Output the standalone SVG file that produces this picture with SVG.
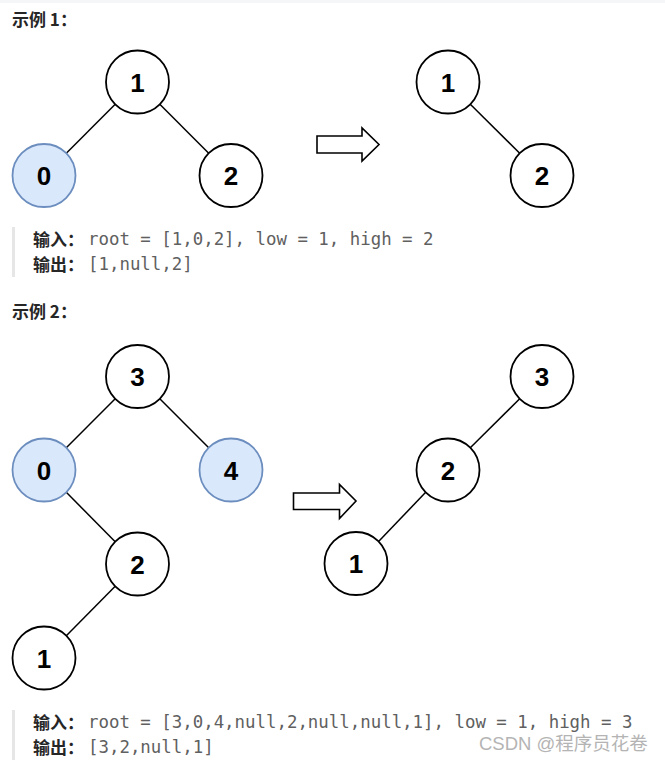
<svg xmlns="http://www.w3.org/2000/svg" width="665" height="762" viewBox="0 0 665 762">
<style>
.n{fill:#ffffff;stroke:#000000;stroke-width:1.8}
.h{fill:#dae8fc;stroke:#6c8ebf;stroke-width:1.8}
.t{font-family:"Liberation Sans",Arial,sans-serif;font-weight:bold;font-size:26px;fill:#000000;text-anchor:middle}
.e{stroke:#000000;stroke-width:1.5;fill:none}
.ar{fill:#ffffff;stroke:#000000;stroke-width:1.6;stroke-linejoin:miter}
.hd{font-family:"Noto Sans CJK SC","Noto Sans",sans-serif;font-weight:bold;font-size:17px;fill:#262626}
.lb{font-family:"Noto Sans CJK SC","Noto Sans",sans-serif;font-weight:bold;font-size:17px;fill:#262626}
.mo{font-family:"DejaVu Sans Mono","Liberation Mono",monospace;font-size:17.4px;fill:#606060}
.bar{fill:#e6e6e6}
.wm{font-family:"Liberation Sans","Noto Sans CJK SC",sans-serif;font-size:18.5px;fill:#b4b4b4}
</style>
<rect x="0" y="0" width="665" height="762" fill="#ffffff"/>
<rect x="0" y="0" width="665" height="3" fill="#f5f6f7"/>

<text class="hd" x="12" y="26">示例 1：</text>
<text class="hd" x="12" y="318">示例 2：</text>

<g id="connectors">
  <line class="e" x1="115.2" y1="104.3" x2="66.3" y2="153.2"/>
  <line class="e" x1="159.8" y1="104.3" x2="208.7" y2="153.2"/>
  <line class="e" x1="470.3" y1="104.3" x2="519.7" y2="153.2"/>
  <line class="e" x1="115.2" y1="398.8" x2="66.3" y2="447.7"/>
  <line class="e" x1="159.8" y1="398.8" x2="208.7" y2="447.7"/>
  <line class="e" x1="66.3" y1="492.3" x2="115.2" y2="541.7"/>
  <line class="e" x1="115.2" y1="586.3" x2="66.3" y2="635.7"/>
  <line class="e" x1="519.7" y1="398.8" x2="470.3" y2="447.7"/>
  <line class="e" x1="425.7" y1="492.3" x2="378.8" y2="541.2"/>
  <polygon class="ar" points="317,136 362,136 362,128 379,144.5 362,161 362,153 317,153"/>
  <polygon class="ar" points="293.5,493 339.5,493 339.5,484.5 356,501 339.5,518.5 339.5,509.5 293.5,509.5"/>
</g>

<g id="ex1-n1"><circle class="n" cx="137.5" cy="82" r="31.5"/><text class="t" x="137.5" y="91.5">1</text></g>
<g id="ex1-n0"><circle class="h" cx="44" cy="175.5" r="31.5"/><text class="t" x="44" y="185">0</text></g>
<g id="ex1-n2"><circle class="n" cx="231" cy="175.5" r="31.5"/><text class="t" x="231" y="185">2</text></g>
<g id="ex1-r1"><circle class="n" cx="448" cy="82" r="31.5"/><text class="t" x="448" y="91.5">1</text></g>
<g id="ex1-r2"><circle class="n" cx="542" cy="175.5" r="31.5"/><text class="t" x="542" y="185">2</text></g>

<g id="ex1-io">
  <rect class="bar" x="12" y="227" width="3" height="50"/>
  <text class="lb" x="33" y="246">输入：</text>
  <text class="mo" x="88" y="245">root = [1,0,2], low = 1, high = 2</text>
  <text class="lb" x="33" y="271">输出：</text>
  <text class="mo" x="88" y="270">[1,null,2]</text>
</g>

<g id="ex2-n3"><circle class="n" cx="137.5" cy="376.5" r="31.5"/><text class="t" x="137.5" y="386">3</text></g>
<g id="ex2-n0"><circle class="h" cx="44" cy="470" r="31.5"/><text class="t" x="44" y="479.5">0</text></g>
<g id="ex2-n4"><circle class="h" cx="231" cy="470" r="31.5"/><text class="t" x="231" y="479.5">4</text></g>
<g id="ex2-n2"><circle class="n" cx="137.5" cy="564" r="31.5"/><text class="t" x="137.5" y="573.5">2</text></g>
<g id="ex2-n1"><circle class="n" cx="44" cy="658" r="31.5"/><text class="t" x="44" y="667.5">1</text></g>
<g id="ex2-r3"><circle class="n" cx="542" cy="376.5" r="31.5"/><text class="t" x="542" y="386">3</text></g>
<g id="ex2-r2"><circle class="n" cx="448" cy="470" r="31.5"/><text class="t" x="448" y="479.5">2</text></g>
<g id="ex2-r1"><circle class="n" cx="356" cy="563.5" r="31.5"/><text class="t" x="356" y="573">1</text></g>

<g id="ex2-io">
  <rect class="bar" x="12" y="710" width="3" height="50"/>
  <text class="lb" x="33" y="729">输入：</text>
  <text class="mo" x="88" y="728">root = [3,0,4,null,2,null,null,1], low = 1, high = 3</text>
  <text class="lb" x="33" y="754">输出：</text>
  <text class="mo" x="88" y="753">[3,2,null,1]</text>
</g>

<text class="wm" x="479" y="750">CSDN @程序员花卷</text>
</svg>
